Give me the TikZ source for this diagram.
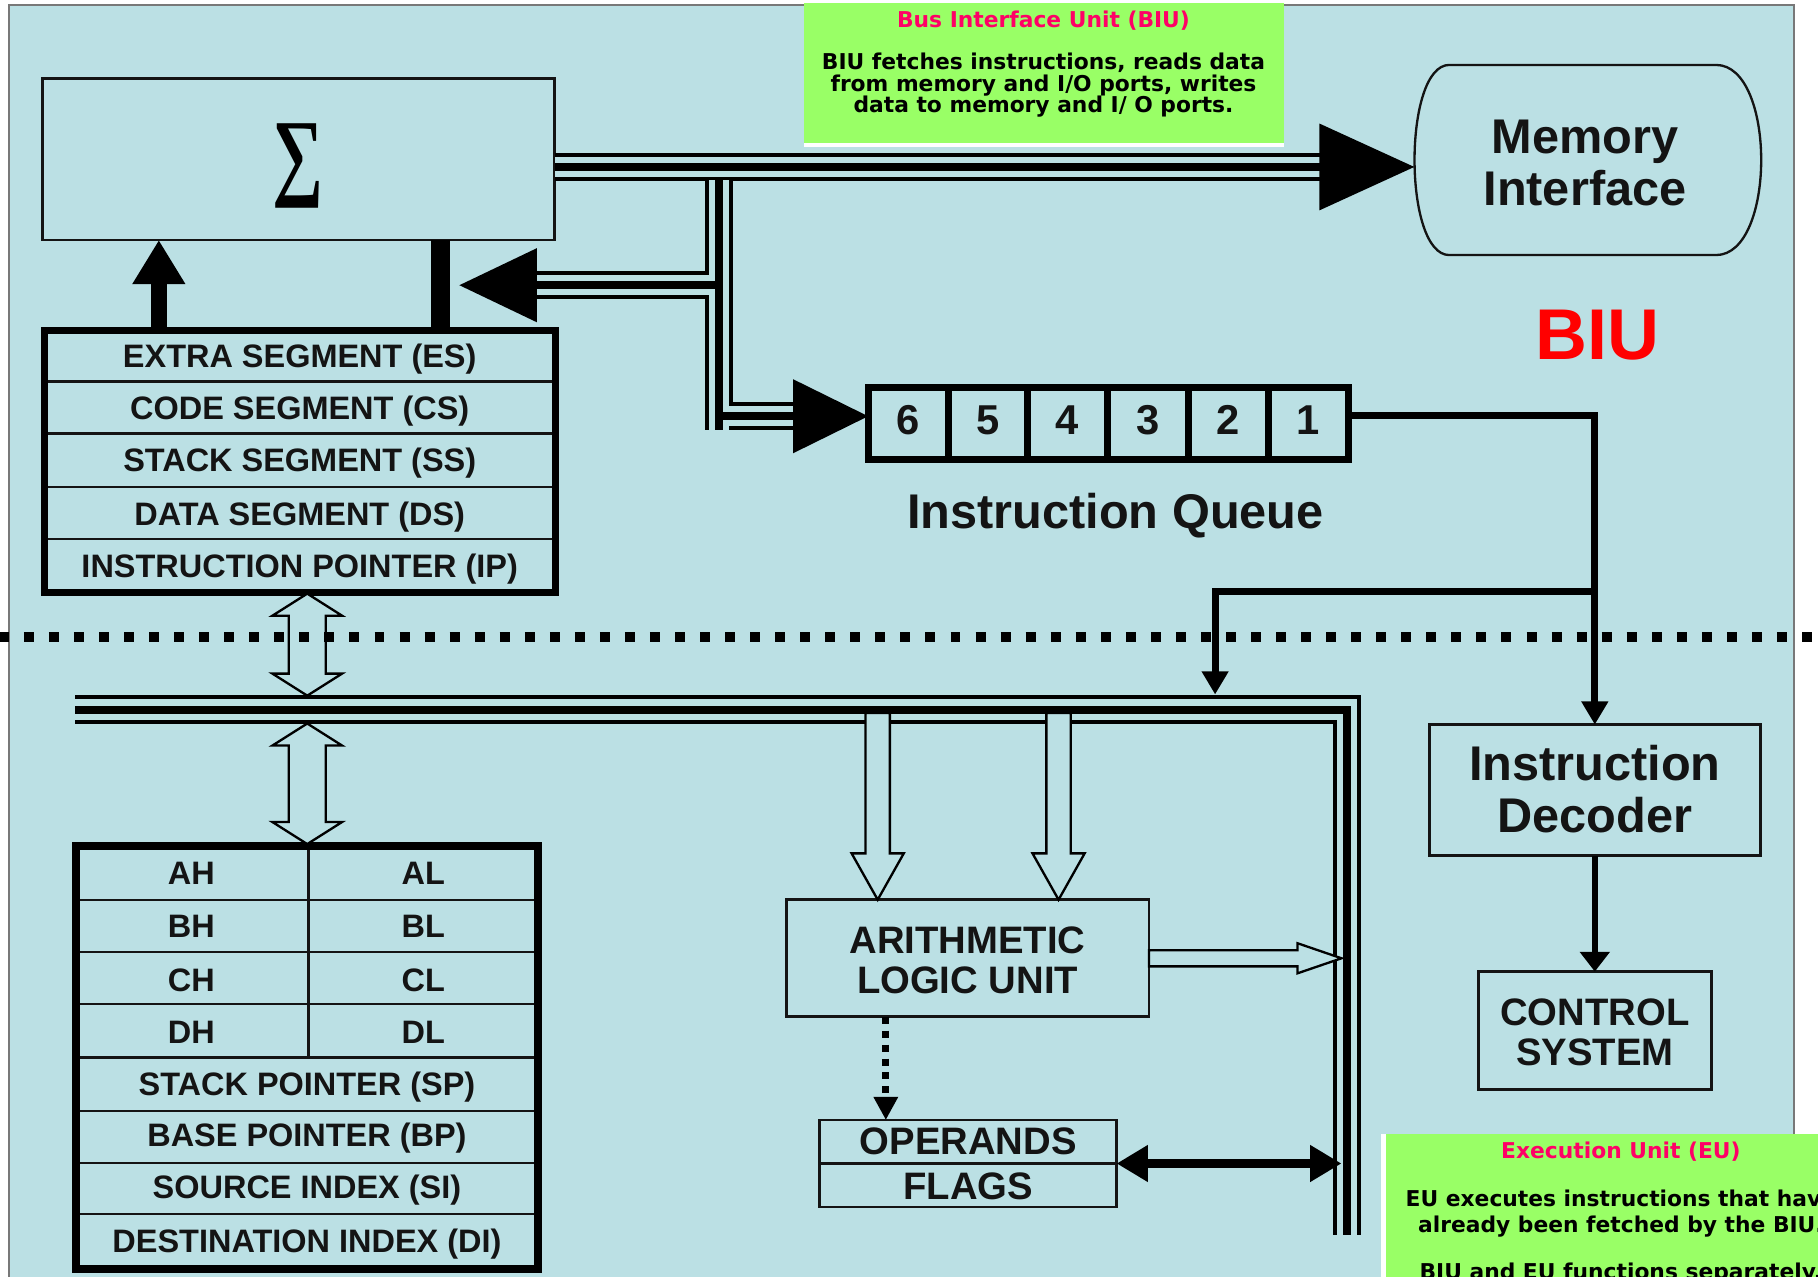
\documentclass[tikz,border=0pt]{standalone}
\usepackage{fontspec}
\usepackage{graphicx}
\setmainfont{Liberation Sans}
\newfontfamily\notefont{DejaVu Sans}
\newfontfamily\sigmafont{Liberation Serif}
\usetikzlibrary{arrows.meta}
\definecolor{bgblue}{RGB}{187,224,228}
\definecolor{notegreen}{RGB}{153,255,102}
\definecolor{titlepink}{RGB}{255,0,102}
\definecolor{framegrey}{RGB}{120,120,120}
\definecolor{ink}{RGB}{20,20,20}
\tikzset{
  txt/.style={inner sep=0pt, text=ink},
  seglbl/.style={txt, font=\bfseries\fontsize{14pt}{14pt}\selectfont, text height=10pt, text depth=0pt},
  biglbl/.style={txt, font=\bfseries\fontsize{21pt}{21pt}\selectfont, text height=15pt, text depth=0pt},
  medlbl/.style={txt, font=\bfseries\fontsize{16.5pt}{16.5pt}\selectfont, text height=11.8pt, text depth=0pt},
  digitlbl/.style={txt, font=\bfseries\fontsize{18pt}{18pt}\selectfont, text height=12.9pt, text depth=0pt},
  notetxt/.style={inner sep=0pt, text=black, font=\notefont\bfseries\fontsize{9.4pt}{9.4pt}\selectfont, text height=6.85pt, text depth=0pt},
  thinbox/.style={draw=ink, line width=1.25pt, inner sep=0pt, outer sep=0pt},
  thickbox/.style={draw=black, line width=3pt, inner sep=0pt, outer sep=0pt},
  rowsep/.style={draw=ink, line width=1pt},
  busout/.style={line width=12.25pt, black},
  busin/.style={line width=8.75pt, bgblue},
  buscore/.style={line width=3.5pt, black},
  hollow/.style={draw=black, line width=1pt, fill=bgblue, line join=miter},
  flow/.style={draw=black, line width=3pt, -{Triangle[length=10pt,width=11pt]}},
}
\begin{document}
\begin{tikzpicture}[x=0.5pt,y=-0.5pt,line join=miter]
\useasboundingbox (0,0) rectangle (1568,1101);
\clip (0,0) rectangle (1568,1101);
\fill[white] (0,0) rectangle (1568,1101);
\filldraw[fill=bgblue, draw=framegrey, line width=1pt] (7.5,4.5) rectangle (1547,1120);

% ---------- top note ----------
\fill[white] (693,0) rectangle (1107,127);
\fill[notegreen] (693,3) rectangle (1107,123);
\node[notetxt, text=titlepink] (biutitle) at (900,17) {Bus Interface Unit (BIU)};
\node[notetxt] (biunote1) at (900,53) {BIU fetches instructions, reads data};
\node[notetxt] (biunote2) at (900,72) {from memory and I/O ports, writes};
\node[notetxt] (biunote3) at (900,90) {data to memory and I/ O ports.};

% ---------- sigma ----------
\node[thinbox, minimum width=220.5pt, minimum height=69.5pt] (sigma) at (257.5,137.5) {};
\node[inner sep=0pt] (sigmasym) at (257,143.5) {\resizebox{22pt}{27.5pt}{\sigmafont\bfseries ∑}};

% ---------- memory interface ----------
\node[inner sep=0pt, outer sep=0pt, minimum width=149.5pt, minimum height=82pt] (mem) at (1369.5,138) {};
\draw[draw=ink, line width=1pt] (1250,56) -- (1480,56) .. controls (1532,56) and (1532,220) .. (1480,220) -- (1250,220) .. controls (1210,220) and (1210,56) .. (1250,56) -- cycle;
\node[biglbl] (mem1) at (1367,117) {Memory};
\node[biglbl] (mem2) at (1367,162) {Interface};

\node[txt, text=red, font=\bfseries\fontsize{31pt}{31pt}\selectfont, text height=22.2pt, text depth=0pt] (biu) at (1378,288) {BIU};

% ---------- segment registers ----------
\foreach \y in {329,374,420,465} \draw[rowsep] (38,\y) -- (479,\y);
\node[thickbox, minimum width=220.5pt, minimum height=113pt] (segbox) at (258.5,398) {};
\node[seglbl] (es) at (258.5,307) {EXTRA SEGMENT (ES)};
\node[seglbl] (cs) at (258.5,352) {CODE SEGMENT (CS)};
\node[seglbl] (ss) at (258.5,397) {STACK SEGMENT (SS)};
\node[seglbl] (ds) at (258.5,443) {DATA SEGMENT (DS)};
\node[seglbl] (ip) at (258.5,488) {INSTRUCTION POINTER (IP)};

\draw[line width=7pt, -{Triangle[length=19pt,width=21.5pt]}] ([xshift=49.5pt]segbox.north west) -- ([xshift=50pt]sigma.south west);
\draw[line width=8pt] ([xshift=171pt]segbox.north west) -- ([xshift=171.5pt]sigma.south west);

% ---------- instruction queue ----------
\foreach \x in {818,886,955,1025,1094} \draw[line width=3pt] (\x,334) -- (\x,396);
\node[thickbox, minimum width=207pt, minimum height=31pt] (queue) at (956,365) {};
\foreach \n/\x in {6/783.5,5/852,4/920.5,3/990,2/1059.5,1/1128.5}
  \node[digitlbl] (q\n) at (\x,362) {\n};
\node[biglbl] (iqlabel) at (962,441) {Instruction Queue};

% ---------- buses ----------
\coordinate (busL) at (479,144);
\coordinate (busR) at (1140,144);
\coordinate (vtop) at (620,155.5);
\coordinate (vbot) at (620,371);
\coordinate (lj) at (620,246);
\coordinate (lbase) at (460,246);
\coordinate (ltip) at (396,246);
\coordinate (rj) at (620,359);
\coordinate (rbase) at (684,359);
\coordinate (euA) at (65,612);
\coordinate (euC) at (1162,612);
\coordinate (euB) at (1162,1065);
\foreach \s in {busout,busin}{
  \draw[\s] (busL) -- (busR);
  \draw[\s] (vtop) -- (vbot);
  \draw[\s] (lj) -- (lbase);
  \draw[\s] (rj) -- (rbase);
  \draw[\s] (euA) -- (euC) -- (euB);
}
\draw[buscore, -{Triangle[length=41pt,width=36.5pt]}] (busL) -- (busL -| mem.west);
\draw[buscore] (vtop) -- (vbot);
\draw[buscore, -{Triangle[length=33.5pt,width=31pt]}] (lj) -- (ltip);
\draw[buscore, -{Triangle[length=32.5pt,width=31pt]}] (rj) -- (rj -| queue.west);
\draw[buscore] (euA) -- (euC) -- (euB);

% ---------- decoder / control ----------
\node[thinbox, minimum width=142.5pt, minimum height=56.5pt] (dec) at (1375.5,681.5) {};
\node[biglbl] (dec1) at (1375.5,658) {Instruction};
\node[biglbl] (dec2) at (1375.5,703) {Decoder};
\node[thinbox, minimum width=100.5pt, minimum height=51pt] (ctrl) at (1375.5,889) {};
\node[medlbl] (ctrl1) at (1375.5,873) {CONTROL};
\node[medlbl] (ctrl2) at (1375.5,907) {SYSTEM};

\coordinate (qout) at ([yshift=3.5pt]queue.east);
\coordinate (split) at (1375.5,510);
\coordinate (eutip) at (1048,599);
\draw[flow] (qout) -| (dec.north);
\draw[flow] (split) -| (eutip);
\draw[line width=2.5pt, -{Triangle[length=8.5pt,width=12.5pt]}] (dec.south) -- (ctrl.north);

% ---------- ALU / operands ----------
\node[thinbox, minimum width=156.5pt, minimum height=50.5pt] (alu) at (834.5,826.5) {};
\node[medlbl] (alu1) at (834.5,811) {ARITHMETIC};
\node[medlbl] (alu2) at (834.5,845) {LOGIC UNIT};
\node[thinbox, minimum width=128pt, minimum height=37.5pt] (ops) at (835,1003.5) {};
\draw[rowsep] (ops.west) -- (ops.east);
\node[medlbl] (opsl) at (835,984) {OPERANDS};
\node[medlbl] (flagsl) at (835,1023) {FLAGS};

\filldraw[hollow] ([xshift=-38.75pt]alu.north) -- ++(-22.5,-40) -- ++(12,0) -- ++(0,-121) -- ++(21,0) -- ++(0,121) -- ++(12,0) -- cycle;
\filldraw[hollow] ([xshift=39.25pt]alu.north) -- ++(-22.5,-40) -- ++(12,0) -- ++(0,-121) -- ++(21,0) -- ++(0,121) -- ++(12,0) -- cycle;
\filldraw[hollow] (alu.east) ++(0,-7) -- ++(128,0) -- ++(0,-6) -- ++(38,13) -- ++(-38,13) -- ++(0,-6) -- ++(-128,0) -- cycle;
\draw[line width=3pt, dash pattern=on 3pt off 3pt, -{Triangle[length=10pt,width=10pt]}] ([xshift=-35.25pt]alu.south) -- ([xshift=-35.5pt]ops.north);
\coordinate (flagtip) at (1157,1003.5);
\draw[line width=4.3pt, {Triangle[length=13.5pt,width=15pt]}-{Triangle[length=13.5pt,width=15pt]}] (ops.east) -- (flagtip);

% ---------- general registers ----------
\foreach \y in {776,821,866,912,958,1003,1047} \draw[rowsep] (65.5,\y) -- (464,\y);
\draw[rowsep] (266,729.5) -- (266,912);
\node[thickbox, line width=3.25pt, minimum width=199.25pt, minimum height=182.5pt] (gpbox) at (264.75,912) {};
\node[seglbl] (ah) at (165,753) {AH};
\node[seglbl] (al) at (365,753) {AL};
\node[seglbl] (bh) at (165,799) {BH};
\node[seglbl] (bl) at (365,799) {BL};
\node[seglbl] (ch) at (165,845) {CH};
\node[seglbl] (cl) at (365,845) {CL};
\node[seglbl] (dh) at (165,890) {DH};
\node[seglbl] (dl) at (365,890) {DL};
\node[seglbl] (sp) at (264.75,935) {STACK POINTER (SP)};
\node[seglbl] (bp) at (264.75,979) {BASE POINTER (BP)};
\node[seglbl] (si) at (264.75,1024) {SOURCE INDEX (SI)};
\node[seglbl] (di) at (264.75,1070) {DESTINATION INDEX (DI)};

% ---------- hollow double arrows ----------
\coordinate (d1a) at (265,512);
\coordinate (d2a) at (265,624);
\filldraw[hollow] (d1a) -- ++(30,19) -- ++(-14,0) -- ++(0,50) -- ++(14,0) -- ++(-30,19) -- ++(-30,-19) -- ++(14,0) -- ++(0,-50) -- ++(-14,0) -- cycle;
\filldraw[hollow] (d2a) -- ++(30,19) -- ++(-14,0) -- ++(0,66) -- ++(14,0) -- ++(-30,19) -- ++(-30,-19) -- ++(14,0) -- ++(0,-66) -- ++(-14,0) -- cycle;

% ---------- BIU / EU separator ----------
\draw[line width=4.3pt, dash pattern=on 4.3pt off 6.5pt] (-1,549) -- (1570,549);

% ---------- EU note ----------
\fill[white] (1191,978) rectangle (1195,1101);
\fill[notegreen] (1195,978) rectangle (1568,1101);
\node[notetxt, text=titlepink] (eutitle) at (1398,992) {Execution Unit (EU)};
\node[notetxt] (eunote1) at (1398,1034) {EU executes instructions that have};
\node[notetxt] (eunote2) at (1398,1056) {already been fetched by the BIU.};
\node[notetxt] (eunote3) at (1398,1097) {BIU and EU functions separately.};
\end{tikzpicture}
\end{document}
